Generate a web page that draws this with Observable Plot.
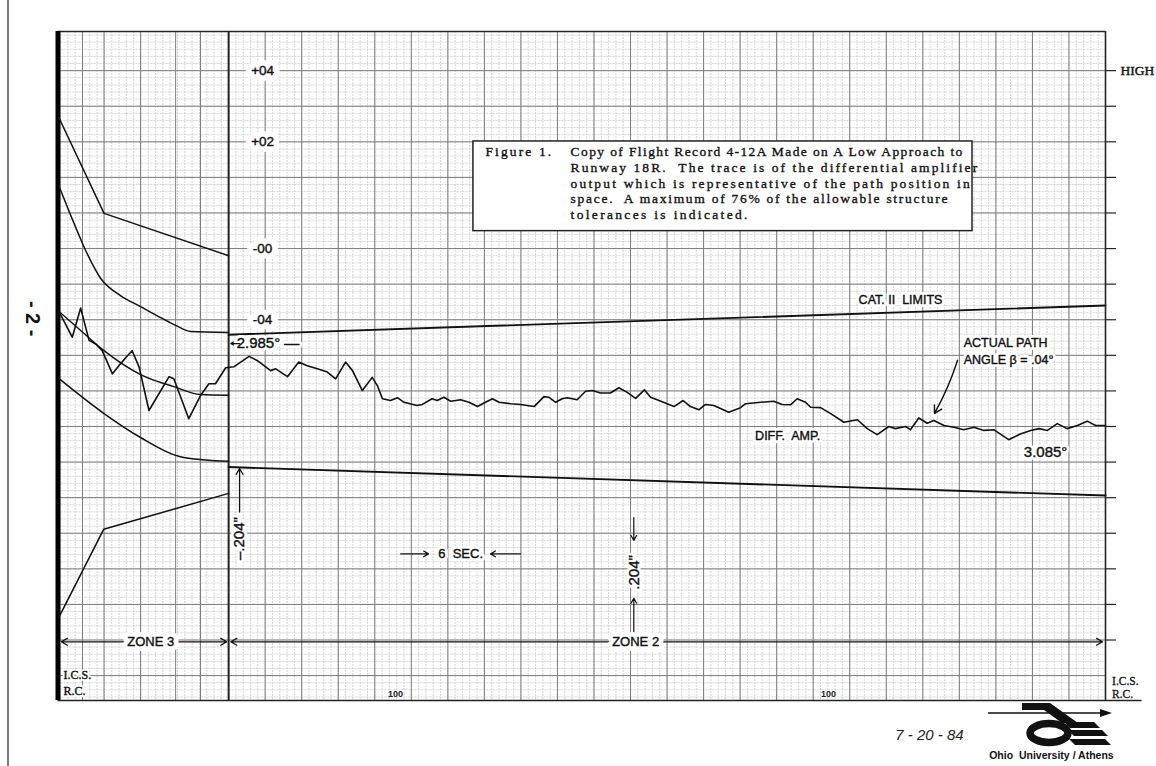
<!DOCTYPE html>
<html><head><meta charset="utf-8">
<script src="https://cdn.jsdelivr.net/npm/d3@7"></script>
<script src="https://cdn.jsdelivr.net/npm/@observablehq/plot@0.6"></script>
<style>
html,body{margin:0;padding:0;background:#fff;}
#wrap{position:relative;width:1156px;height:766px;overflow:hidden;background:#fff;}
#wrap svg{position:absolute;left:0;top:0;}
</style></head><body><div id="wrap"></div>
<script>
// ---- recorded trace (DIFF. AMP.), chart divisions ----
const traceX = [-4.65,-4.28,-4.05,-3.82,-3.64,-3.46,-3.18,-2.96,-2.77,-2.64,
 -2.45,-2.18,-1.63,-1.50,-1.09,-0.77,-0.54,-0.36,-0.08,0.15,
 0.56,0.79,1.15,1.29,1.61,1.92,2.15,2.43,2.70,2.93,
 3.20,3.39,3.66,3.93,4.07,4.21,4.43,4.62,4.80,5.16,
 5.30,5.57,5.71,5.89,6.08,6.35,6.58,6.81,7.03,7.22,
 7.40,7.72,7.99,8.36,8.63,8.77,8.95,9.13,9.27,9.54,
 9.77,9.95,10.18,10.45,10.68,10.91,11.14,11.38,11.55,11.78,
 12.19,12.44,12.64,12.87,13.05,13.28,13.69,14.01,14.15,14.56,
 14.92,15.15,15.38,15.56,15.79,15.93,16.20,16.48,16.84,17.21,
 17.48,17.75,18.07,18.25,18.53,18.66,18.89,19.12,19.30,19.58,
 19.85,20.12,20.40,20.67,20.94,21.35,21.67,21.95,22.18,22.41,
 22.68,22.95,23.23,23.50,23.73,24.0];
const traceY = [10.24,9.51,10.33,9.42,9.32,9.13,8.48,8.76,8.99,9.13,
 8.67,7.45,8.40,8.34,7.22,7.87,8.20,8.20,8.65,8.68,
 8.97,8.85,8.57,8.62,8.40,8.81,8.71,8.62,8.53,8.34,
 8.81,8.57,8.01,8.38,8.15,7.78,7.73,7.81,7.68,7.59,
 7.62,7.78,7.73,7.82,7.71,7.75,7.68,7.56,7.68,7.78,
 7.68,7.64,7.62,7.56,7.84,7.82,7.68,7.78,7.81,7.75,
 7.99,8.01,7.94,7.94,8.09,7.96,7.79,8.03,7.82,7.73,
 7.56,7.73,7.56,7.47,7.62,7.59,7.40,7.53,7.64,7.68,
 7.71,7.62,7.61,7.78,7.68,7.54,7.53,7.36,7.12,7.19,
 6.94,6.77,7.00,6.94,7.00,6.91,7.24,7.09,7.17,7.03,
 6.98,6.91,6.98,6.89,6.91,6.63,6.79,6.89,6.94,6.89,
 7.08,6.94,7.03,7.15,7.03,7.03];

// ---- zone 3 tolerance curves ----
const curveAX = [-4.65,-3.41,0];            const curveAY = [15.69,12.99,11.80];
const curveBX = [-4.65,-4.32,-3.91,-3.50,-2.96,-2.41,-1.86,-1.45,-1.04,0];
const curveBY = [13.77,12.93,11.94,11.16,10.68,10.37,10.06,9.84,9.67,9.64];
const curveCX = [-4.65,-4.05,-3.42,-2.41,-1.50,-0.77,0];
const curveCY = [10.24,9.70,9.14,8.46,8.12,7.90,7.88];
const curveDX = [-4.65,-3.42,-2.41,-1.23,0]; const curveDY = [8.35,7.37,6.69,6.13,6.02];
const curveEX = [-4.65,-3.42,0];            const curveEY = [1.63,4.11,5.12];
// ---- zone 2 CAT. II limits ----
const upperX = [0,24]; const upperY = [9.58,10.40];
const lowerX = [0,24]; const lowerY = [5.86,5.06];

// ---- labels ----
const levelLabels = ["+04","+02","-00","-04"];
const levelValues = [17,15,12,10];
const captionHead = "Figure 1.";
const captionLines = [
 "Copy of Flight Record 4-12A Made on A Low Approach to",
 "Runway 18R.  The trace is of the differential amplifier",
 "output which is representative of the path position in",
 "space.  A maximum of 76% of the allowable structure",
 "tolerances is indicated."];
const zone3Lines = [-4.0,-3.41,-2.41,-1.45,-0.77];
const bottomMarks = ["100","100"];

const pts = (xs, ys) => xs.map((x, i) => ({x, y: ys[i]}));
const mono = "'Liberation Serif', 'DejaVu Serif', serif";
const sans = "'Liberation Sans', Arial, sans-serif";
const serif = "'Liberation Serif', 'DejaVu Serif', serif";
// lettering: white knock-out behind, then slightly heavy ink
const lbl = (data, opts, haloW = 6) => [
  Plot.text(data, {...opts, fill: "white", stroke: "white", strokeWidth: haloW}),
  Plot.text(data, {...opts, fill: "#111", stroke: "#111", strokeWidth: 0.4})
];

const minorX = d3.range(-4.6, 24.001, 0.2).map(v => +v.toFixed(2));
const minorY = d3.range(-0.6, 18.1, 0.2).map(v => +v.toFixed(2));
const majorX = d3.range(1, 24);
const majorY = d3.range(0, 18);
const sideTicks = d3.range(1, 18);

const chart = Plot.plot({
  width: 1156, height: 766,
  marginLeft: 57.5, marginRight: 51, marginTop: 31, marginBottom: 66,
  x: {domain: [-4.67, 24], axis: null},
  y: {domain: [-0.7, 18.1], axis: null},
  style: {background: "transparent", overflow: "visible"},
  marks: [
    // paper grid
    Plot.ruleX(minorX, {stroke: "#c4c4c4", strokeWidth: 0.7, strokeDasharray: "2,1"}),
    Plot.ruleY(minorY, {stroke: "#c4c4c4", strokeWidth: 0.7, strokeDasharray: "2,1"}),
    Plot.ruleX(majorX, {stroke: "#7c7c7c", strokeWidth: 1}),
    Plot.ruleX(zone3Lines, {stroke: "#7c7c7c", strokeWidth: 1}),
    Plot.ruleY(majorY, {stroke: "#7c7c7c", strokeWidth: 1}),
    // frame
    Plot.ruleY([18.1], {stroke: "#222", strokeWidth: 1.3}),
    Plot.ruleY([-0.7], {x1: -4.67, x2: 25, stroke: "#222", strokeWidth: 1.5}),
    Plot.ruleX([24], {stroke: "#222", strokeWidth: 1.6}),
    Plot.ruleX([0], {stroke: "#222", strokeWidth: 2}),
    Plot.ruleX([-4.67], {stroke: "#000", strokeWidth: 5}),
    Plot.ruleY(sideTicks, {x1: 24, x2: 24.3, stroke: "#222", strokeWidth: 1.2}),
    // tolerance curves
    Plot.line(pts(curveAX, curveAY), {x: "x", y: "y", stroke: "#111", strokeWidth: 1.5}),
    Plot.line(pts(curveBX, curveBY), {x: "x", y: "y", stroke: "#111", strokeWidth: 1.5, curve: "monotone-x"}),
    Plot.line(pts(curveCX, curveCY), {x: "x", y: "y", stroke: "#111", strokeWidth: 1.4, curve: "monotone-x"}),
    Plot.line(pts(curveDX, curveDY), {x: "x", y: "y", stroke: "#111", strokeWidth: 1.5, curve: "monotone-x"}),
    Plot.line(pts(curveEX, curveEY), {x: "x", y: "y", stroke: "#111", strokeWidth: 1.5}),
    Plot.line(pts(upperX, upperY), {x: "x", y: "y", stroke: "#111", strokeWidth: 1.9}),
    Plot.line(pts(lowerX, lowerY), {x: "x", y: "y", stroke: "#111", strokeWidth: 1.9}),
    // trace
    Plot.line(pts(traceX, traceY), {x: "x", y: "y", stroke: "#111", strokeWidth: 1.6, strokeLinejoin: "round"}),
    // caption box
    Plot.rect([0], {x1: 6.70, x2: 20.36, y1: 12.49, y2: 15.01, fill: "white", stroke: "#222", strokeWidth: 1.5}),
    Plot.text([captionHead], {x: 7.03, y: 14.71, text: d => d, textAnchor: "start", fontFamily: mono, fontSize: 13.5, fill: "#111", stroke: "#111", strokeWidth: 0.35}),
    Plot.text(captionLines, {x: 9.36, y: (d, i) => 14.71 - i * 0.438, text: d => d, textAnchor: "start", fontFamily: mono, fontSize: 13.5, fill: "#111", stroke: "#111", strokeWidth: 0.35}),
    Plot.text(["HIGH"], {x: 24.41, y: 17, text: d => d, textAnchor: "start", fontFamily: mono, fontSize: 13.5, fill: "#111", stroke: "#111", strokeWidth: 0.4}),
    // level labels
    ...lbl(levelLabels, {x: 0.93, y: (d, i) => levelValues[i], text: d => d, fontFamily: sans, fontSize: 13.5}, 12),
    // annotations
    ...lbl(["CAT. II  LIMITS"], {x: 18.39, y: 10.56, text: d => d, fontFamily: sans, fontSize: 12.5}),
    ...lbl(["2.985° —"], {x: 0.22, y: 9.33, text: d => d, textAnchor: "start", fontFamily: sans, fontSize: 15}),
    Plot.arrow([0], {x1: 0.30, y1: 9.33, x2: 0.06, y2: 9.33, headLength: 6, stroke: "#111", strokeWidth: 1.2}),
    ...lbl(["ACTUAL PATH", "ANGLE β = .04°"], {x: 20.12, y: (d, i) => 9.34 - i * 0.47, text: d => d, textAnchor: "start", fontFamily: sans, fontSize: 12.5}),
    Plot.arrow([0], {x1: 19.95, y1: 8.86, x2: 19.32, y2: 7.37, bend: 6, headLength: 9, stroke: "#111", strokeWidth: 1.4}),
    ...lbl(["DIFF.  AMP."], {x: 15.30, y: 6.72, text: d => d, fontFamily: sans, fontSize: 12.5}),
    ...lbl(["3.085°"], {x: 22.36, y: 6.28, text: d => d, fontFamily: sans, fontSize: 15}),
    // -.204" at zone boundary
    Plot.arrow([0], {x1: 0.30, y1: 4.60, x2: 0.30, y2: 5.82, headLength: 8, stroke: "#111", strokeWidth: 1.3}),
    ...lbl(['–.204"'], {x: 0.30, y: 3.85, text: d => d, rotate: -90, fontFamily: sans, fontSize: 15}),
    // .204" scale mark
    Plot.arrow([0], {x1: 11.09, y1: 4.44, x2: 11.09, y2: 3.80, headLength: 7, stroke: "#111", strokeWidth: 1.2}),
    Plot.arrow([0], {x1: 11.09, y1: 0.99, x2: 11.09, y2: 2.17, headLength: 7, stroke: "#111", strokeWidth: 1.2}),
    ...lbl(['.204"'], {x: 11.09, y: 2.90, text: d => d, rotate: -90, fontFamily: sans, fontSize: 15}),
    // 6 SEC.
    Plot.arrow([0], {x1: 4.71, y1: 3.42, x2: 5.47, y2: 3.42, headLength: 7, stroke: "#111", strokeWidth: 1.2}),
    Plot.arrow([0], {x1: 7.99, y1: 3.42, x2: 7.17, y2: 3.42, headLength: 7, stroke: "#111", strokeWidth: 1.2}),
    ...lbl(["6  SEC."], {x: 6.35, y: 3.42, text: d => d, fontFamily: sans, fontSize: 13}),
    // zones
    Plot.arrow([0, 1], {x1: -2.13, x2: (d, i) => i ? -0.05 : -4.58, y1: 0.95, y2: 0.95, headLength: 8, stroke: "#111", strokeWidth: 1.3}),
    Plot.arrow([0, 1], {x1: 11.14, x2: (d, i) => i ? 23.92 : 0.06, y1: 0.95, y2: 0.95, headLength: 8, stroke: "#111", strokeWidth: 1.3}),
    ...lbl(["ZONE 3"], {x: -2.13, y: 0.95, text: d => d, fontFamily: sans, fontSize: 13}, 10),
    ...lbl(["ZONE 2"], {x: 11.14, y: 0.95, text: d => d, fontFamily: sans, fontSize: 13}, 10),
    ...lbl(["I.C.S.", "R.C."], {x: -4.52, y: (d, i) => i ? -0.44 : 0.0, text: d => d, textAnchor: "start", fontFamily: serif, fontSize: 12}, 4),
    Plot.text(["I.C.S.", "R.C."], {x: 24.18, y: (d, i) => i ? -0.54 : -0.15, text: d => d, textAnchor: "start", fontFamily: serif, fontSize: 11.5, fill: "#111", stroke: "#111", strokeWidth: 0.3}),
    Plot.text(bottomMarks, {x: (d, i) => i ? 16.42 : 4.57, y: -0.53, text: d => d, fontFamily: sans, fontSize: 9, fontWeight: "bold", fill: "#222"}),
    // page notes
    Plot.text(["- 2 -"], {x: -5.36, y: 10.03, text: d => d, rotate: 90, fontFamily: sans, fontSize: 20, fontWeight: "bold", fill: "#111"}),
    Plot.text(["7 - 20 - 84"], {x: 19.18, y: -1.67, text: d => d, fontFamily: sans, fontStyle: "italic", fontSize: 15, fill: "#222"}),
    Plot.text(["Ohio  University / Athens"], {x: 22.52, y: -2.24, text: d => d, fontFamily: sans, fontWeight: "bold", fontSize: 10.5, fill: "#111"})
  ]
});
document.getElementById("wrap").appendChild(chart);

// typewriter look: fit caption lines to fixed pitch (7.41 px per character)
const pitch = 7.41;
d3.select(chart).selectAll("text").each(function() {
  const t = this.textContent;
  if (captionLines.includes(t) || t === captionHead) {
    this.setAttribute("textLength", t.length * pitch - 1);
    this.setAttribute("lengthAdjust", "spacing");
  }
});

// page edge and logo decoration
const ns = "http://www.w3.org/2000/svg";
const logo = document.createElementNS(ns, "svg");
logo.setAttribute("width", 1156); logo.setAttribute("height", 766);
logo.innerHTML = `
 <line x1="8" y1="0" x2="8" y2="766" stroke="#222" stroke-width="1.2"/>
 <line x1="988" y1="713" x2="1104" y2="713" stroke="#111" stroke-width="1.6"/>
 <polygon points="1100,709 1112,713 1100,717" fill="#111"/>
 <polygon points="1022,703 1050,703 1078,723 1062,723 1044,710 1022,710" fill="#111"/>
 <ellipse cx="1049" cy="733" rx="19" ry="9.5" fill="none" stroke="#111" stroke-width="7.5"/>
 <polygon points="1064,722 1094,722 1100,728 1070,728" fill="#111"/>
 <polygon points="1068,730 1102,730 1108,736 1074,736" fill="#111"/>
 <polygon points="1069,739 1105,739 1111,745 1075,745" fill="#111"/>`;
document.getElementById("wrap").appendChild(logo);
</script></body></html>
